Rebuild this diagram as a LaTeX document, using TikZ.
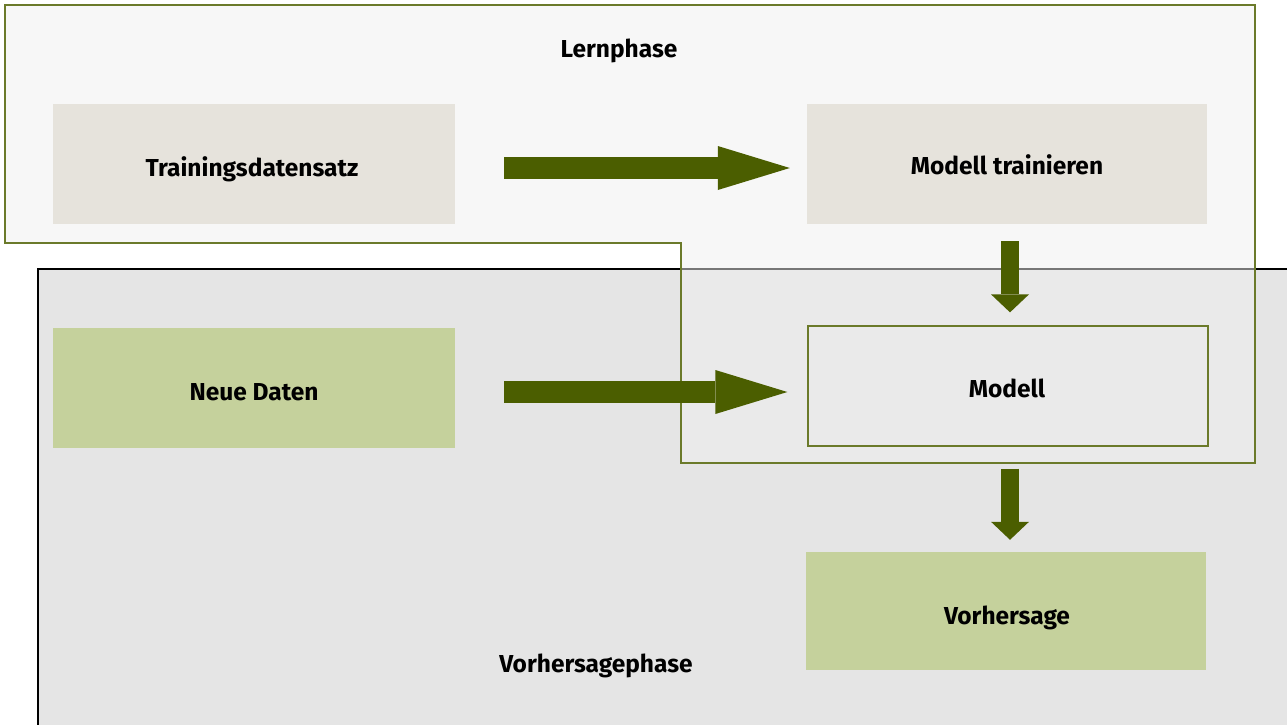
\documentclass[tikz,border=0pt]{standalone}
\usepackage{fontspec}
\setmainfont{Fira Sans}
\usetikzlibrary{arrows.meta}
\definecolor{olive}{HTML}{6B7A2A}
\definecolor{arrowgreen}{HTML}{4B5E00}
\definecolor{lernfill}{HTML}{EFEFEF}
\definecolor{vorfill}{HTML}{E5E5E5}
\definecolor{beige}{HTML}{E6E3DC}
\definecolor{lightgreen}{HTML}{C5D19C}
\tikzset{
  box/.style={rectangle, inner sep=0pt},
  boxtext/.style={inner sep=0pt, text depth=0pt, font=\fontsize{24.5}{28}\selectfont\bfseries},
  beigebox/.style={box, fill=beige},
  greenbox/.style={box, fill=lightgreen},
  olivebox/.style={box, draw=olive, line width=1.3pt},
  phaselabel/.style={inner sep=0pt, font=\fontsize{24.5}{28}\selectfont\bfseries},
  bigarrow/.style={arrowgreen, line width=22pt, -{Triangle[length=72pt,width=44pt,line width=0pt]}},
  downarrow/.style={arrowgreen, line width=18pt, -{Triangle[length=18pt,width=38pt,line width=0pt]}}
}
\begin{document}
\begin{tikzpicture}[x=1pt,y=-1pt]
\useasboundingbox (0,0) rectangle (1287,724);
\clip (0,0) rectangle (1287,724);
% Vorhersagephase region
\draw[fill=vorfill, draw=black, line width=1.5pt] (38,269) rectangle (1300,740);
% Lernphase region
\draw[fill=lernfill, fill opacity=0.5, draw=olive, line width=1.3pt]
  (5,5) -- (1255,5) -- (1255,463) -- (681,463) -- (681,243) -- (5,243) -- cycle;
\node[phaselabel] (lern) at (619,51) {Lernphase};
\node[phaselabel] (vorh) at (596,666) {Vorhersagephase};
% boxes
\node[beigebox, minimum width=402pt, minimum height=120pt] (train) at (254,164) {};
\node[beigebox, minimum width=400pt, minimum height=120pt] (mtrain) at (1007,164) {};
\node[greenbox, minimum width=402pt, minimum height=120pt] (neu) at (254,388) {};
\node[olivebox, minimum width=400pt, minimum height=120pt] (modell) at (1008,386) {};
\node[greenbox, minimum width=400pt, minimum height=118pt] (vor) at (1006,611) {};
\node[boxtext] (trainT) at ([xshift=-2pt,yshift=-3pt]train.center) {Trainingsdatensatz};
\node[boxtext] (mtrainT) at ([yshift=-1pt]mtrain.center) {Modell trainieren};
\node[boxtext] (neuT) at ([yshift=-4pt]neu.center) {Neue Daten};
\node[boxtext] (modellT) at ([xshift=-1pt,yshift=-2pt]modell.center) {Modell};
\node[boxtext] (vorT) at ([xshift=1pt,yshift=-4pt]vor.center) {Vorhersage};
% arrows
\draw[bigarrow, shorten <=49pt, shorten >=17pt] (train.east |- 0,168) -- (mtrain.west |- 0,168);
\draw[bigarrow, shorten <=49pt, shorten >=20pt] (neu.east |- 0,392) -- (modell.west |- 0,392);
\draw[downarrow, shorten <=17pt, shorten >=13pt] (mtrain.south -| 1010,0) -- (modell.north -| 1010,0);
\draw[downarrow, shorten <=22pt, shorten >=12pt] (modell.south -| 1010,0) -- (vor.north -| 1010,0);
\end{tikzpicture}
\end{document}
